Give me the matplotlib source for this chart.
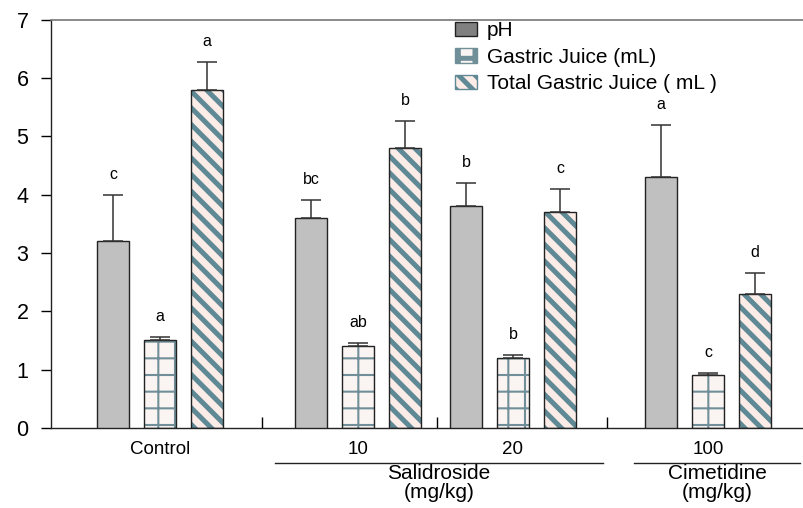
import numpy as np
import matplotlib
matplotlib.use('Agg')
import matplotlib.pyplot as plt
from matplotlib.patches import Patch

plt.rcParams['font.family'] = ['Liberation Sans', 'DejaVu Sans']

# ---------------------------------------------------------------- data ---------------------------------------------------------------
groups = ['Control', '10', '20', '100']
group_x = [160, 358, 513, 708]                     # group centres on the x axis
group_edges = [262, 437, 607]                      # small ticks between groups

ph = [3.2, 3.6, 3.8, 4.3]
ph_err = [0.8, 0.3, 0.4, 0.9]
ph_sig = ['c', 'bc', 'b', 'a']

gj = [1.5, 1.4, 1.2, 0.9]
gj_err = [0.06, 0.06, 0.05, 0.04]
gj_sig = ['a', 'ab', 'b', 'c']

tgj = [5.8, 4.8, 3.7, 2.3]
tgj_err = [0.47, 0.46, 0.39, 0.36]
tgj_sig = ['a', 'b', 'c', 'd']

drug_labels = ['Salidroside\n(mg/kg)', 'Cimetidine\n(mg/kg)']
drug_spans = [(275, 603), (634, 800)]

# --------------------------------------------------------------- styles --------------------------------------------------------------
ph_col = '#c0c0c0'
gj_bg, gj_hatch = '#faf4f2', '#708f98'
tgj_bg, tgj_hatch = '#fcece7', '#5f8995'
offset = 47
bw = 32

fig = plt.figure(figsize=(8.04, 5.08), dpi=100)
ax = fig.add_axes([51/804, 1-428/508, 1-51/804, 408.5/508])

gx = np.array(group_x, dtype=float)


def hatched_bars(x, h, bg, hc, hatch, hlw):
    bars = ax.bar(x, h, bw, color=bg, edgecolor=hc, hatch=hatch, linewidth=0, zorder=2)
    for b in bars:
        if hasattr(b, 'set_hatch_linewidth'):
            b.set_hatch_linewidth(hlw)
    ax.bar(x, h, bw, fill=False, edgecolor='#222222', linewidth=1.0, zorder=3)
    return bars


plt.rcParams['hatch.linewidth'] = 1.5
ax.bar(gx - offset, ph, bw, color=ph_col, edgecolor='#222222', linewidth=1.0, zorder=3)
hatched_bars(gx, gj, gj_bg, gj_hatch, '+', 1.5)
plt.rcParams['hatch.linewidth'] = 3.6
hatched_bars(gx + offset, tgj, tgj_bg, tgj_hatch, '\\\\', 3.6)

for xs, h, e, sig in [(gx - offset, ph, ph_err, ph_sig), (gx, gj, gj_err, gj_sig), (gx + offset, tgj, tgj_err, tgj_sig)]:
    ax.errorbar(xs, h, yerr=[np.zeros(len(h)), e], fmt='none', ecolor='#333333', elinewidth=1.1, capsize=7, capthick=1.1, zorder=4)
    for xi, hi, ei, s in zip(xs, h, e, sig):
        ax.text(xi, hi + ei + 0.35, s, ha='center', va='center', fontsize=11.5)

ax.set_xlim(51, 804)
ax.set_ylim(0, 7)
ax.set_yticks(range(0, 8))
ax.tick_params(axis='y', direction='out', length=7.2, width=1, labelsize=15.5, pad=9)
ax.set_xticks(gx)
ax.set_xticklabels(groups, fontsize=13.5)
ax.tick_params(axis='x', which='major', length=0, pad=9)
ax.set_xticks(group_edges, minor=True)
ax.tick_params(axis='x', which='minor', direction='in', length=8, width=1)

ax.spines['right'].set_visible(False)
ax.spines['top'].set_color('#777777')
ax.spines['top'].set_linewidth(1.2)
for s in ['left', 'bottom']:
    ax.spines[s].set_color('#222222')
    ax.spines[s].set_linewidth(1.0)

trans = ax.get_xaxis_transform()
for lab, (x0, x1) in zip(drug_labels, drug_spans):
    ax.plot([x0, x1], [-0.0857, -0.0857], color='#222222', lw=1, transform=trans, clip_on=False)
    ax.text((x0 + x1) / 2, -0.088, lab, transform=trans, ha='center', va='top', fontsize=15, linespacing=1.0)

handles = [Patch(facecolor='#808080', edgecolor='#222222', label='pH'),
           Patch(facecolor=gj_bg, edgecolor=gj_hatch, hatch='+', label='Gastric Juice (mL)'),
           Patch(facecolor=tgj_bg, edgecolor=tgj_hatch, hatch='\\\\', label='Total Gastric Juice ( mL )')]
ax.legend(handles=handles, loc='upper left', bbox_to_anchor=((447-51)/753, 1.016), frameon=False, fontsize=15,
          handlelength=1.05, handleheight=0.7, handletextpad=0.45, labelspacing=0.36, borderaxespad=0)

fig.savefig('out.png', dpi=100)
